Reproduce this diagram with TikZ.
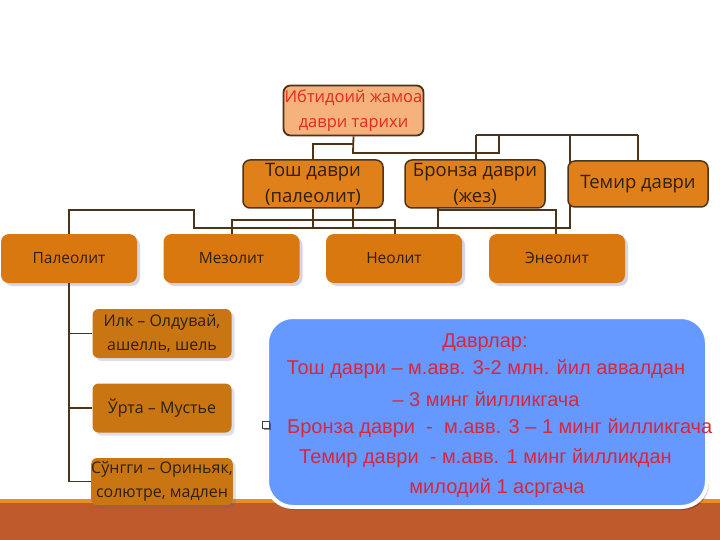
\documentclass[tikz,border=0pt]{standalone}
\usepackage{fontspec}
\setmainfont{Open Sans}
\newfontfamily\arialfont{Liberation Sans}
\usetikzlibrary{positioning,shadows,calc}
\definecolor{linebrown}{HTML}{4D3317}
\definecolor{paleorange}{HTML}{F5B27C}
\definecolor{midorange}{HTML}{E0801A}
\definecolor{deeporange}{HTML}{D9780F}
\definecolor{suborange}{HTML}{C97612}
\definecolor{skyblue}{HTML}{6699FF}
\definecolor{rust}{HTML}{BF5A2C}
\definecolor{stripe}{HTML}{E98D2B}
\definecolor{crimson}{HTML}{D7263D}
\definecolor{headred}{HTML}{E52A1E}
\definecolor{darktext}{HTML}{2E1F0E}
\pgfdeclarelayer{bg}
\pgfsetlayers{bg,main}

\tikzset{
  headbox/.style={draw=linebrown, line width=1.8pt, fill=paleorange, rounded corners=7pt,
    minimum width=140pt, minimum height=50pt, inner sep=0pt, align=center,
    text=headred, font=\fontsize{16.5}{25}\selectfont},
  erabox/.style={draw=linebrown, line width=1.5pt, fill=midorange, rounded corners=7pt,
    minimum width=140pt, minimum height=48pt, inner sep=0pt, align=center,
    text=darktext, font=\fontsize{18.5}{26}\selectfont},
  stagebox/.style={fill=deeporange, rounded corners=8pt, minimum width=136pt,
    minimum height=49pt, inner sep=0pt, text=darktext, font=\fontsize{15.5}{20}\selectfont,
    text height=2.1ex, text depth=0.1ex,
    drop shadow={shadow xshift=3pt, shadow yshift=-3pt, fill=blue!30!gray, opacity=0.25}},
  subbox/.style={fill=suborange, rounded corners=6pt, minimum width=139pt,
    minimum height=49pt, inner sep=0pt, align=center, text=darktext,
    font=\fontsize{16}{24}\selectfont,
    drop shadow={shadow xshift=3pt, shadow yshift=-3pt, fill=blue!30!gray, opacity=0.2}},
  infotext/.style={text=crimson, inner sep=0pt, font=\arialfont\fontsize{20}{22}\selectfont},
  link/.style={draw=linebrown, line width=1.8pt}
}

\begin{document}
\begin{tikzpicture}[x=1pt, y=-1pt]
\useasboundingbox (0,0) rectangle (720,540);

% header and eras
\node[headbox] (top) at (353.5,110.5) {Ибтидоий жамоа\\даври тарихи};
\node[erabox] (tosh) at (313,184) {Тош даври\\(палеолит)};
\node[erabox] (bronza) at (475,184) {Бронза даври\\(жез)};
\node[erabox, minimum height=46pt] (temir) at (638,184) {Темир даври};

% stages
\node[stagebox] (pal) at (69,258.5) {Палеолит};
\node[stagebox] (mez) at (231.5,258.5) {Мезолит};
\node[stagebox] (neo) at (394,258.5) {Неолит};
\node[stagebox] (eneo) at (557,258.5) {Энеолит};

% junctions
\coordinate (jtop) at (499,135);
\coordinate (jleft) at (476,135);
\coordinate (jright) at (638,135);
\coordinate (jmid) at (570,135);
\coordinate (jlow) at (570,228);
\coordinate (jpal) at (194,210);
\coordinate (jmez) at (232,220);
\coordinate (jneo) at (395,220);
\coordinate (jbro) at (556,210);

\begin{pgfonlayer}{bg}
\fill[stripe] (0,499) rectangle (720,503);
\fill[rust] (0,503) rectangle (720,540);

\draw[link] (top.south) -- (353,153) -| (jtop);
\draw[link] (jleft) -- (jright);
\draw[link] (jleft) -- (bronza.north -| jleft);
\draw[link] (jright) -- (temir.north);
\draw[link] (353,144) -| (tosh.north);
\draw[link] (jmid) -- (jlow) -| (jpal) -| (pal.north);
\draw[link] (tosh.south) -- (313,228);
\draw[link] (353,207) -- (353,228);
\draw[link] (mez.north -| jmez) -- (jmez) -- (jneo) -- (neo.north -| jneo);
\draw[link] (438,207) -- (438,228);
\draw[link] (438,210) -- (jbro) -- (eneo.north -| jbro);
\end{pgfonlayer}

% Palaeolithic sub-stages
\node[subbox] (ilk) at (162,333.5) {Илк – Олдувай,\\ашелль, шель};
\node[subbox] (urta) at (162,408) {Ўрта – Мустье};
\node[subbox, minimum height=47pt] (sungi) at (162,481.5) {Сўнгги – Ориньяк,\\солютре, мадлен};
\coordinate (jsub) at (69,481.5);
\draw[link] (pal.south) -- (jsub) -- (sungi.west);
\draw[link] (ilk.west -| jsub) -- (ilk.west);
\draw[link] (urta.west -| jsub) -- (urta.west);

% periods panel
\filldraw[draw=white, line width=4pt, fill=skyblue, rounded corners=26pt,
  drop shadow={shadow xshift=2pt, shadow yshift=-3pt, fill=black, opacity=0.2}]
  (267,317) rectangle (707,507);
\node[draw=black!75, fill=white, line width=0.8pt, minimum size=7pt, inner sep=0pt,
  drop shadow={shadow xshift=1pt, shadow yshift=-1pt, fill=black, opacity=0.4}]
  (bullet) at (266,425) {};
\node[infotext] (d0) at (485,343) {Даврлар:};
\node[infotext] (d1) at (486,369) {Тош даври – м.авв. 3-2 млн. йил аввалдан};
\node[infotext] (d2) at (486,399) {– 3 минг йилликгача};
\node[infotext, anchor=west] (d3) at (287,428) {Бронза даври\ \ -\ \ м.авв. 3 – 1 минг йилликгача};
\node[infotext, anchor=west] (d4) at (299,458) {Темир даври\ \ - м.авв. 1 минг йилликдан};
\node[infotext] (d5) at (497,488) {милодий 1 асргача};
\end{tikzpicture}
\end{document}
